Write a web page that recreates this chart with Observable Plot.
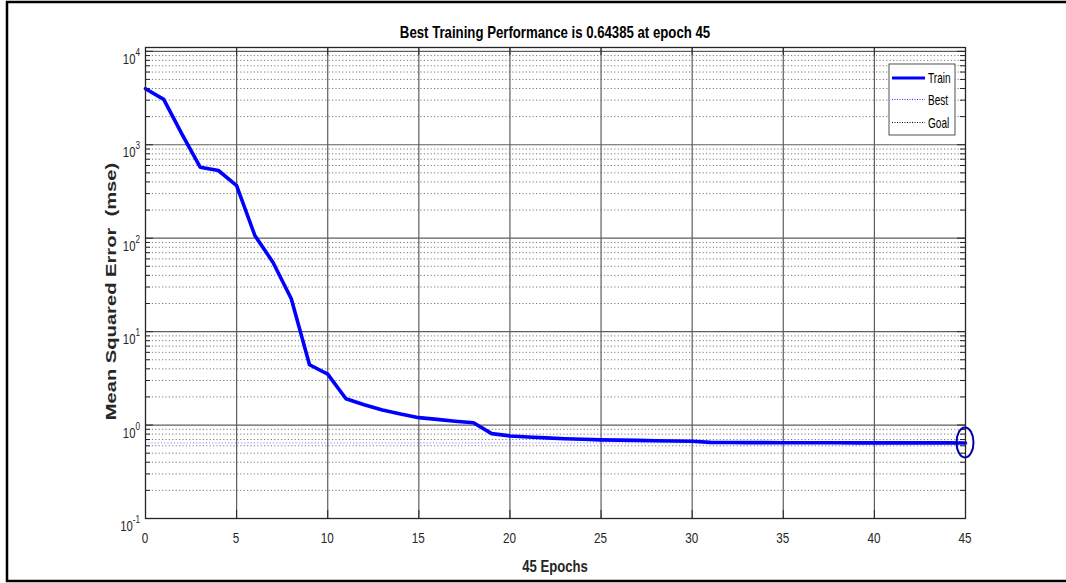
<!DOCTYPE html>
<html>
<head>
<meta charset="utf-8">
<script src="https://cdn.jsdelivr.net/npm/d3@7"></script>
<script src="https://cdn.jsdelivr.net/npm/@observablehq/plot@0.6"></script>
<style>
  html, body { margin: 0; padding: 0; background: #fff; }
  #chart svg { display: block; }
</style>
</head>
<body>
<div id="chart"></div>
<script>
// ---- data ----
const epochs = [0,1,2,3,4,5,6,7,8,9,10,11,12,13,14,15,16,17,18,19,20,21,22,23,24,25,26,27,28,29,30,31,32,33,34,35,36,37,38,39,40,41,42,43,44,45];
const mse = [3980,3060,1300,575,530,366,107,55,22.5,4.42,3.51,1.91,1.65,1.45,1.31,1.20,1.15,1.10,1.06,0.81,0.765,0.745,0.73,0.715,0.705,0.695,0.69,0.685,0.68,0.675,0.672,0.652,0.650,0.649,0.648,0.647,0.6465,0.646,0.6455,0.645,0.6447,0.6445,0.6443,0.6441,0.644,0.64385];
const bestEpoch = 45;
const bestPerf = 0.64385;
const xTicks = [0,5,10,15,20,25,30,35,40,45];
const yDecades = [0.1,1,10,100,1000,10000];
const yExponents = ["-1","0","1","2","3","4"];
const minorMultipliers = [2,3,4,5,6,7,8,9];
const titleText = "Best Training Performance is 0.64385 at epoch 45";
const xLabel = "45 Epochs";
const yLabel = "Mean Squared Error  (mse)";
const legendItems = ["Train","Best","Goal"];

// ---- derived tables ----
const data = epochs.map((e, i) => ({epoch: e, mse: mse[i]}));
const minorTicks = yDecades.slice(0, -1).flatMap(d => minorMultipliers.map(m => d * m));
const majorTicks = yDecades;

const W = 1066, H = 583;
const mL = 145, mR = 101, mT = 47, mB = 65;
const pxPerEpoch = (W - mL - mR) / 45;
const pxPerDecade = 93.3;
const yTop = Math.pow(10, 4 + 3.8 / pxPerDecade);
const tickMajE = 8 / pxPerEpoch, tickMinE = 5 / pxPerEpoch;
const tickXfac = Math.pow(10, 8 / pxPerDecade);

const font = "'Liberation Sans', Arial, Helvetica, sans-serif";

const chart = Plot.plot({
  width: W, height: H,
  marginLeft: mL, marginRight: mR, marginTop: mT, marginBottom: mB,
  style: {background: "white"},
  x: {domain: [0, 45], axis: null},
  y: {type: "log", domain: [0.1, yTop], axis: null},
  marks: [
    Plot.ruleY(minorTicks, {stroke: "#7a7a7a", strokeDasharray: "1.2,2.2", strokeWidth: 1}),
    Plot.ruleY(majorTicks, {stroke: "#5e5e5e", strokeWidth: 1.2}),
    Plot.ruleX(xTicks.slice(1, -1), {stroke: "#5e5e5e", strokeWidth: 1.2}),
    Plot.ruleY([bestPerf], {stroke: "#4a4aff", strokeOpacity: 0.7, strokeDasharray: "1.2,2", strokeWidth: 1}),
    Plot.ruleY(minorTicks, {x1: 0, x2: tickMinE, stroke: "#262626"}),
    Plot.ruleY(minorTicks, {x1: 45 - tickMinE, x2: 45, stroke: "#262626"}),
    Plot.ruleY(majorTicks, {x1: 0, x2: tickMajE, stroke: "#262626"}),
    Plot.ruleY(majorTicks, {x1: 45 - tickMajE, x2: 45, stroke: "#262626"}),
    Plot.ruleX(xTicks, {y1: 0.1, y2: 0.1 * tickXfac, stroke: "#262626"}),
    Plot.ruleX(xTicks, {y1: yTop / tickXfac, y2: yTop, stroke: "#262626"}),
    Plot.line(data, {x: "epoch", y: "mse", stroke: "#0000ff", strokeWidth: 3.6, strokeLinejoin: "round"}),
    Plot.frame({stroke: "#262626", strokeWidth: 1.3})
  ]
});

document.getElementById("chart").appendChild(chart);

// ---- extras with d3 using plot scales ----
const svg = d3.select(chart);
const xs = chart.scale("x"), ys = chart.scale("y");
const X = v => xs.apply(v), Y = v => ys.apply(v);

function label(parent, x, y, txt, {size = 14, sx = 0.8, anchor = "middle", weight = "normal", fill = "#262626", rotate = 0} = {}) {
  const g = parent.append("g").attr("transform", `translate(${x},${y}) rotate(${rotate}) scale(${sx},1)`);
  return g.append("text").attr("x", 0).attr("y", 0)
    .attr("text-anchor", anchor).attr("fill", fill)
    .style("font-family", font).style("font-size", size + "px").style("font-weight", weight)
    .text(txt);
}

// outer figure border
svg.append("rect").attr("x", 7).attr("y", 2).attr("width", W + 20).attr("height", 579)
  .attr("fill", "none").attr("stroke", "black").attr("stroke-width", 2.5);

// x tick labels
xTicks.forEach(d => label(svg, X(d), 543, String(d), {size: 15, sx: 0.78}));

// y tick labels with superscripts
yDecades.forEach((d, i) => {
  const g = svg.append("g").attr("transform", `translate(${mL - 5},${Y(d) + 13}) scale(0.78,1)`);
  const t = g.append("text").attr("x", 0).attr("y", 0)
    .attr("text-anchor", "end").attr("fill", "#262626")
    .style("font-family", font).style("font-size", "14.5px");
  t.append("tspan").text("10");
  t.append("tspan").attr("dy", -8).style("font-size", "10.5px").text(yExponents[i]);
});

// best-point ellipse
svg.append("ellipse")
  .attr("cx", X(bestEpoch)).attr("cy", Y(bestPerf))
  .attr("rx", 8.5).attr("ry", 15)
  .attr("fill", "none").attr("stroke", "#0000a8").attr("stroke-width", 2);

// title
label(svg, X(22.5), 38, titleText, {size: 16.5, sx: 0.8, weight: "bold", fill: "black"});
// x label
label(svg, X(22.5), 572, xLabel, {size: 16, sx: 0.82, weight: "bold"});
// y label (wide)
label(svg, 116, 291.5, yLabel, {size: 15.5, sx: 1.3, weight: "bold", rotate: -90});

// legend
const lg = svg.append("g");
lg.append("rect").attr("x", 889).attr("y", 64).attr("width", 66).attr("height", 71)
  .attr("fill", "white").attr("stroke", "#262626").attr("stroke-width", 0.8);
const rowsY = [78, 99.5, 122.5];
const styles = [
  {stroke: "#0000ff", w: 3, dash: null},
  {stroke: "#2a2aff", w: 1, dash: "1,1.5"},
  {stroke: "#000000", w: 1, dash: "1,1.5"}
];
legendItems.forEach((name, i) => {
  lg.append("line").attr("x1", 892).attr("x2", 925).attr("y1", rowsY[i]).attr("y2", rowsY[i])
    .attr("stroke", styles[i].stroke).attr("stroke-width", styles[i].w)
    .attr("stroke-dasharray", styles[i].dash);
  label(lg, 928, rowsY[i] + 5, name, {size: 14, sx: 0.72, anchor: "start", fill: "black"});
});
</script>
</body>
</html>
